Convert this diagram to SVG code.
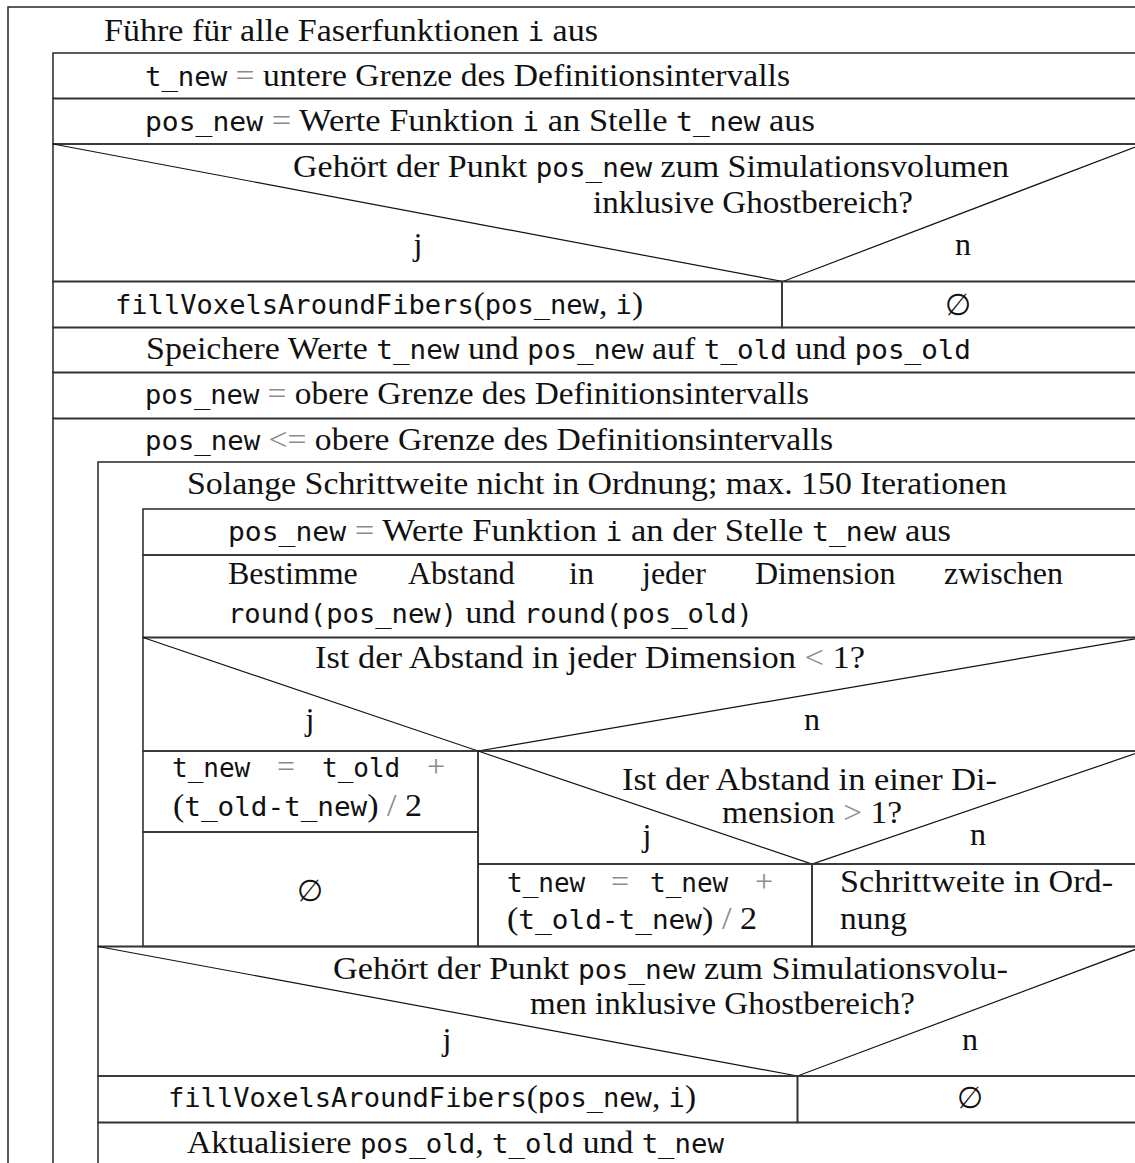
<svg xmlns="http://www.w3.org/2000/svg" width="1135" height="1163" viewBox="0 0 1135 1163">
<style>
.s{font-family:"Liberation Serif","DejaVu Serif",serif;font-size:32px;fill:#111}
.m{font-family:"DejaVu Sans Mono","Liberation Mono",monospace;font-size:26px}
.g{fill:#8a8a8a}
.e{font-family:"DejaVu Serif",serif;font-size:30px;fill:#111;text-anchor:middle}
.c{text-anchor:middle}
.box{fill:none;stroke:#333;stroke-width:1.6}
.diag{fill:none;stroke:#111;stroke-width:1.2}
</style>
<rect x="0" y="0" width="1135" height="1163" fill="#fff"/>

<g id="forLoop">
<rect class="box" x="8" y="7" width="1135" height="1200"/>
<text class="s" x="104" y="41" textLength="494" lengthAdjust="spacingAndGlyphs">Führe für alle Faserfunktionen <tspan class="m">i</tspan> aus</text>
</g>

<g id="assignTnew">
<rect class="box" x="53" y="53" width="1090" height="45.5"/>
<text class="s" x="145" y="86" textLength="645" lengthAdjust="spacingAndGlyphs"><tspan class="m">t_new</tspan> <tspan class="g">=</tspan> untere Grenze des Definitionsintervalls</text>
</g>

<g id="assignPosnew">
<rect class="box" x="53" y="98.5" width="1090" height="45.5"/>
<text class="s" x="145" y="131" textLength="670" lengthAdjust="spacingAndGlyphs"><tspan class="m">pos_new</tspan> <tspan class="g">=</tspan> Werte Funktion <tspan class="m">i</tspan> an Stelle <tspan class="m">t_new</tspan> aus</text>
</g>

<g id="decision1">
<rect class="box" x="53" y="144" width="1090" height="137.5"/>
<polyline class="diag" points="53,144 783,281.5 1143,144"/>
<text class="s" x="293" y="177" textLength="716" lengthAdjust="spacingAndGlyphs">Gehört der Punkt <tspan class="m">pos_new</tspan> zum Simulationsvolumen</text>
<text class="s" x="593" y="213" textLength="320" lengthAdjust="spacingAndGlyphs">inklusive Ghostbereich?</text>
<text class="s c" x="418" y="255">j</text>
<text class="s c" x="963" y="255">n</text>
</g>

<g id="fill1Yes">
<rect class="box" x="53" y="281.5" width="729" height="46"/>
<text class="s" x="115" y="314" textLength="528" lengthAdjust="spacingAndGlyphs"><tspan class="m">fillVoxelsAroundFibers</tspan>(<tspan class="m">pos_new</tspan>, <tspan class="m">i</tspan>)</text>
</g>
<g id="fill1No">
<rect class="box" x="782" y="281.5" width="361" height="46"/>
<text class="e" x="958" y="315">∅</text>
</g>

<g id="speichere">
<rect class="box" x="53" y="327.5" width="1090" height="45"/>
<text class="s" x="146" y="359" textLength="825" lengthAdjust="spacingAndGlyphs">Speichere Werte <tspan class="m">t_new</tspan> und <tspan class="m">pos_new</tspan> auf <tspan class="m">t_old</tspan> und <tspan class="m">pos_old</tspan></text>
</g>

<g id="assignObere">
<rect class="box" x="53" y="372.5" width="1090" height="46"/>
<text class="s" x="145" y="404" textLength="664" lengthAdjust="spacingAndGlyphs"><tspan class="m">pos_new</tspan> <tspan class="g">=</tspan> obere Grenze des Definitionsintervalls</text>
</g>

<g id="whileOuter">
<rect class="box" x="53" y="418.5" width="1090" height="800"/>
<text class="s" x="145" y="450" textLength="688" lengthAdjust="spacingAndGlyphs"><tspan class="m">pos_new</tspan> <tspan class="g">&lt;=</tspan> obere Grenze des Definitionsintervalls</text>
</g>

<g id="whileInner">
<rect class="box" x="98" y="462" width="1045" height="484.5"/>
<text class="s" x="187" y="494" textLength="820" lengthAdjust="spacingAndGlyphs">Solange Schrittweite nicht in Ordnung; max. 150 Iterationen</text>
</g>

<g id="assignPosnew2">
<rect class="box" x="143" y="509" width="1000" height="46"/>
<text class="s" x="228" y="541" textLength="723" lengthAdjust="spacingAndGlyphs"><tspan class="m">pos_new</tspan> <tspan class="g">=</tspan> Werte Funktion <tspan class="m">i</tspan> an der Stelle <tspan class="m">t_new</tspan> aus</text>
</g>

<g id="bestimme">
<rect class="box" x="143" y="555" width="1000" height="82.5"/>
<text class="s" y="584"><tspan x="228">Bestimme</tspan><tspan x="408">Abstand</tspan><tspan x="569">in</tspan><tspan x="642">jeder</tspan><tspan x="755">Dimension</tspan><tspan x="944">zwischen</tspan></text>
<text class="s" x="228" y="623" textLength="525" lengthAdjust="spacingAndGlyphs"><tspan class="m">round(pos_new)</tspan> und <tspan class="m">round(pos_old)</tspan></text>
</g>

<g id="decision2">
<rect class="box" x="143" y="637.5" width="1000" height="113.5"/>
<polyline class="diag" points="143,637.5 478,751 1143,637.5"/>
<text class="s" x="315" y="668" textLength="550" lengthAdjust="spacingAndGlyphs">Ist der Abstand in jeder Dimension <tspan class="g">&lt;</tspan> 1?</text>
<text class="s c" x="310" y="730">j</text>
<text class="s c" x="812" y="730">n</text>
</g>

<g id="halveOld">
<rect class="box" x="143" y="751" width="335" height="81"/>
<text class="s" y="777"><tspan class="m" x="172">t_new</tspan><tspan class="g" x="277">=</tspan><tspan class="m" x="322">t_old</tspan><tspan class="g" x="427">+</tspan></text>
<text class="s" x="173" y="816" textLength="249" lengthAdjust="spacingAndGlyphs">(<tspan class="m">t_old-t_new</tspan>) <tspan class="g">/</tspan> 2</text>
</g>

<g id="emptyLeft">
<rect class="box" x="143" y="832" width="335" height="114.5"/>
<text class="e" x="310" y="901">∅</text>
</g>

<g id="decision4">
<rect class="box" x="478" y="751" width="665" height="113"/>
<polyline class="diag" points="478,751 812,864 1143,751"/>
<text class="s" x="622" y="790" textLength="375" lengthAdjust="spacingAndGlyphs">Ist der Abstand in einer Di-</text>
<text class="s" x="722" y="823" textLength="180" lengthAdjust="spacingAndGlyphs">mension <tspan class="g">&gt;</tspan> 1?</text>
<text class="s c" x="647" y="846">j</text>
<text class="s c" x="978" y="845">n</text>
</g>

<g id="halveNew">
<rect class="box" x="478" y="864" width="334" height="82.5"/>
<text class="s" y="892"><tspan class="m" x="507">t_new</tspan><tspan class="g" x="611">=</tspan><tspan class="m" x="650">t_new</tspan><tspan class="g" x="755">+</tspan></text>
<text class="s" x="507" y="929" textLength="250" lengthAdjust="spacingAndGlyphs">(<tspan class="m">t_old-t_new</tspan>) <tspan class="g">/</tspan> 2</text>
</g>

<g id="stepOk">
<rect class="box" x="812" y="864" width="331" height="82.5"/>
<text class="s" x="840" y="892" textLength="273" lengthAdjust="spacingAndGlyphs">Schrittweite in Ord-</text>
<text class="s" x="840" y="929" textLength="67" lengthAdjust="spacingAndGlyphs">nung</text>
</g>

<g id="decision3">
<rect class="box" x="98" y="946.5" width="1045" height="129.5"/>
<polyline class="diag" points="98,946.5 797.5,1076 1143,946.5"/>
<text class="s" x="333" y="979" textLength="675" lengthAdjust="spacingAndGlyphs">Gehört der Punkt <tspan class="m">pos_new</tspan> zum Simulationsvolu-</text>
<text class="s" x="530" y="1014" textLength="385" lengthAdjust="spacingAndGlyphs">men inklusive Ghostbereich?</text>
<text class="s c" x="447" y="1050">j</text>
<text class="s c" x="970" y="1050">n</text>
</g>

<g id="fill2Yes">
<rect class="box" x="98" y="1076" width="699.5" height="46.5"/>
<text class="s" x="168" y="1107" textLength="528" lengthAdjust="spacingAndGlyphs"><tspan class="m">fillVoxelsAroundFibers</tspan>(<tspan class="m">pos_new</tspan>, <tspan class="m">i</tspan>)</text>
</g>
<g id="fill2No">
<rect class="box" x="797.5" y="1076" width="345.5" height="46.5"/>
<text class="e" x="970" y="1108">∅</text>
</g>

<g id="aktualisiere">
<rect class="box" x="98" y="1122.5" width="1045" height="80"/>
<text class="s" x="187" y="1153" textLength="537" lengthAdjust="spacingAndGlyphs">Aktualisiere <tspan class="m">pos_old</tspan>, <tspan class="m">t_old</tspan> und <tspan class="m">t_new</tspan></text>
</g>

<g id="connectors"></g>
</svg>
